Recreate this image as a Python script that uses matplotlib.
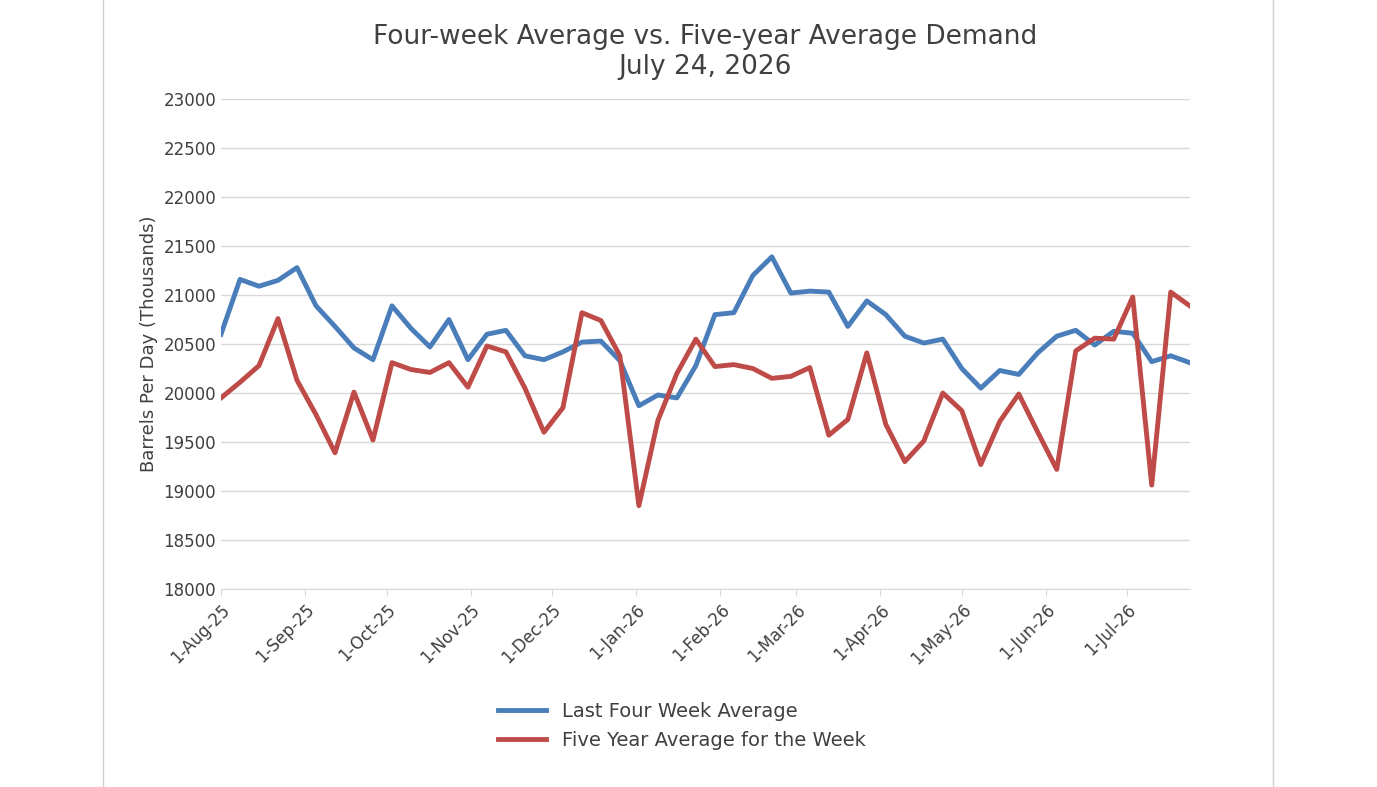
import matplotlib.pyplot as plt
import matplotlib.dates as mdates
import numpy as np
import datetime as dt

start = dt.date(2025, 8, 1)
dates = [start + dt.timedelta(days=7 * i) for i in range(52)]

four_week = [20600, 21160, 21090, 21150, 21280, 20890, 20680, 20460, 20340, 20890,
             20660, 20470, 20750, 20340, 20600, 20640, 20380, 20340, 20420, 20520,
             20530, 20330, 19870, 19980, 19950, 20280, 20800, 20820, 21200, 21390,
             21020, 21040, 21030, 20680, 20940, 20800, 20580, 20510, 20550, 20250,
             20050, 20230, 20190, 20410, 20580, 20640, 20490, 20630, 20610, 20320,
             20380, 20310]
five_year = [19950, 20110, 20280, 20760, 20130, 19780, 19390, 20010, 19520, 20310,
             20240, 20210, 20310, 20060, 20480, 20420, 20050, 19600, 19850, 20820,
             20740, 20380, 18850, 19720, 20200, 20550, 20270, 20290, 20250, 20150,
             20170, 20260, 19570, 19730, 20410, 19680, 19300, 19510, 20000, 19820,
             19270, 19710, 19990, 19600, 19220, 20430, 20560, 20550, 20980, 19060,
             21030, 20890]

fig = plt.figure(figsize=(13.77, 7.87), dpi=100)
ax = fig.add_axes([0.1605, 0.2516, 0.7035, 0.6225])

ax.plot(dates, four_week, color='#4a7ebb', lw=3.5, label='Last Four Week Average')
ax.plot(dates, five_year, color='#be4b48', lw=3.5, label='Five Year Average for the Week')

ax.set_ylim(18000, 23000)
ax.set_yticks(np.arange(18000, 23001, 500))
ax.set_xlim(dates[0], dates[-1])
ax.xaxis.set_major_locator(mdates.MonthLocator(bymonthday=1))
ax.xaxis.set_major_formatter(mdates.DateFormatter('%-d-%b-%y'))
plt.setp(ax.get_xticklabels(), rotation=45, ha='right', rotation_mode='anchor')
ax.tick_params(axis='both', labelsize=12, colors='#404040', length=0)
ax.tick_params(axis='x', length=5, color='#d9d9d9')
ax.grid(axis='y', color='#d9d9d9', lw=1)
for s in ['top', 'right', 'left']:
    ax.spines[s].set_visible(False)
ax.spines['bottom'].set_color('#d9d9d9')
ax.set_ylabel('Barrels Per Day (Thousands)', fontsize=13, color='#404040')
ax.set_title('Four-week Average vs. Five-year Average Demand\nJuly 24, 2026',
             fontsize=19, color='#404040', pad=18)

fig.legend(loc='upper center', bbox_to_anchor=(0.495, 0.13), frameon=False,
           fontsize=14, ncol=1, handlelength=2.5, labelcolor='#404040')

fig.add_artist(plt.Line2D([103 / 1377] * 2, [0, 1], color='#d0d0d0', lw=1))
fig.add_artist(plt.Line2D([1273 / 1377] * 2, [0, 1], color='#d0d0d0', lw=1))

fig.savefig('out.png', dpi=100)
